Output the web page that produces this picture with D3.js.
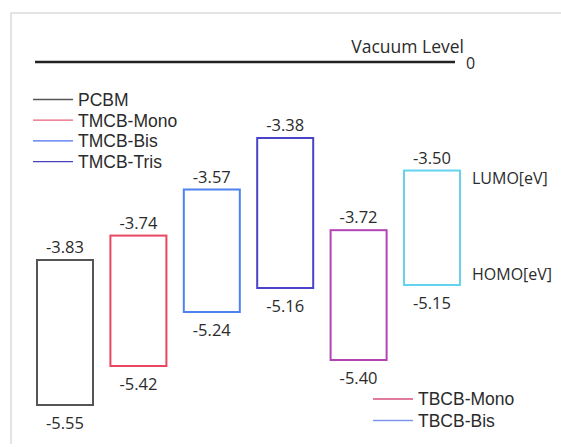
<!DOCTYPE html>
<html>
<head>
<meta charset="utf-8">
<script src="https://cdn.jsdelivr.net/npm/d3@7"></script>
<style>
  body { margin: 0; background: #fff; }
  svg { display: block; }
</style>
</head>
<body>
<div id="chart"></div>
<script>
// energy levels (eV)
const materials = ["PCBM", "TMCB-Mono", "TMCB-Bis", "TMCB-Tris", "TBCB-Mono", "TBCB-Bis"];
const lumo = [-3.83, -3.74, -3.57, -3.38, -3.72, -3.50];
const homo = [-5.55, -5.42, -5.24, -5.16, -5.40, -5.15];
const legendLeft = ["PCBM", "TMCB-Mono", "TMCB-Bis", "TMCB-Tris"];
const legendRight = ["TBCB-Mono", "TBCB-Bis"];

const width = 561, height = 447;
const ink = "#2b2b2b";

const boxColor = d3.scaleOrdinal()
  .domain(materials)
  .range(["#555555", "#e8475f", "#4d82f0", "#4a42c8", "#b344b3", "#63d3f0"]);
const legendColor = d3.scaleOrdinal()
  .domain(materials)
  .range(["#555555", "#e8607a", "#4d6ff0", "#4a42b8", "#d9507e", "#8096f0"]);

const svg = d3.select("#chart").append("svg")
  .attr("width", width)
  .attr("height", height);

// light frame round the figure
svg.append("path")
  .attr("d", `M11,${height - 3}V13H${width}`)
  .attr("fill", "none")
  .attr("stroke", "#dcdcdc")
  .attr("stroke-width", 1.5);

// the diagram is schematic: LUMO and HOMO each get their own linear scale
const yLumo = d3.scaleLinear().domain([-3.83, -3.38]).range([260, 138]);
const yHomo = d3.scaleLinear().domain([-5.55, -5.15]).range([405, 285]);

const x = d3.scaleBand()
  .domain(materials)
  .range([37, 37 + 5 * 73.4 + 56])
  .paddingInner(0.237)
  .paddingOuter(0);

// vacuum level
svg.append("line")
  .attr("x1", 35).attr("x2", 455)
  .attr("y1", 62).attr("y2", 62)
  .attr("stroke", "#222")
  .attr("stroke-width", 2.5);
svg.append("text")
  .attr("x", 464).attr("y", 53)
  .attr("text-anchor", "end")
  .attr("font-family", "Open Sans")
  .attr("font-size", 17.5)
  .attr("fill", ink)
  .text("Vacuum Level");
svg.append("text")
  .attr("x", 466).attr("y", 69)
  .attr("font-family", "Open Sans")
  .attr("font-size", 16)
  .attr("fill", ink)
  .text("0");

const data = materials.map((m, i) => ({ name: m, lumo: lumo[i], homo: homo[i] }));

const boxes = svg.selectAll(".level")
  .data(data)
  .enter()
  .append("g")
  .attr("class", "level");

boxes.append("rect")
  .attr("x", d => x(d.name))
  .attr("y", d => yLumo(d.lumo))
  .attr("width", x.bandwidth())
  .attr("height", d => yHomo(d.homo) - yLumo(d.lumo))
  .attr("fill", "none")
  .attr("stroke", d => boxColor(d.name))
  .attr("stroke-width", 2);

boxes.append("text")//LUMO value above the box
  .attr("x", d => x(d.name) + x.bandwidth() / 2)
  .attr("y", d => yLumo(d.lumo) - 7)
  .attr("text-anchor", "middle")
  .attr("font-family", "Open Sans")
  .attr("font-size", 16.5)
  .attr("fill", ink)
  .text(d => d.lumo.toFixed(2));

boxes.append("text")//HOMO value below the box
  .attr("x", d => x(d.name) + x.bandwidth() / 2)
  .attr("y", d => yHomo(d.homo) + 24)
  .attr("text-anchor", "middle")
  .attr("font-family", "Open Sans")
  .attr("font-size", 16.5)
  .attr("fill", ink)
  .text(d => d.homo.toFixed(2));

// LUMO / HOMO labels next to the last box
const last = data[data.length - 1];
svg.append("text")
  .attr("x", 472).attr("y", yLumo(last.lumo) + 13)
  .attr("font-family", "Open Sans")
  .attr("font-size", 16)
  .attr("fill", ink)
  .text("LUMO[eV]");
svg.append("text")
  .attr("x", 472).attr("y", yHomo(last.homo) - 5)
  .attr("font-family", "Open Sans")
  .attr("font-size", 16)
  .attr("fill", ink)
  .text("HOMO[eV]");

// legends
function legend(names, x0, y0, step) {
  const g = svg.append("g")
    .attr("transform", `translate(${x0},${y0})`);
  const item = g.selectAll("g")
    .data(names)
    .enter()
    .append("g")
    .attr("transform", (d, i) => `translate(0,${i * step})`);
  item.append("line")
    .attr("x1", 0).attr("x2", 40)
    .attr("stroke", d => legendColor(d))
    .attr("stroke-width", 1.3);
  item.append("text")
    .attr("x", 45)
    .attr("dy", "0.36em")
    .attr("font-family", "Liberation Sans")
    .attr("font-size", 17.5)
    .attr("fill", ink)
    .text(d => d);
}
legend(legendLeft, 33, 99.5, 20.7);
legend(legendRight, 373, 399, 21.5);
</script>
</body>
</html>
